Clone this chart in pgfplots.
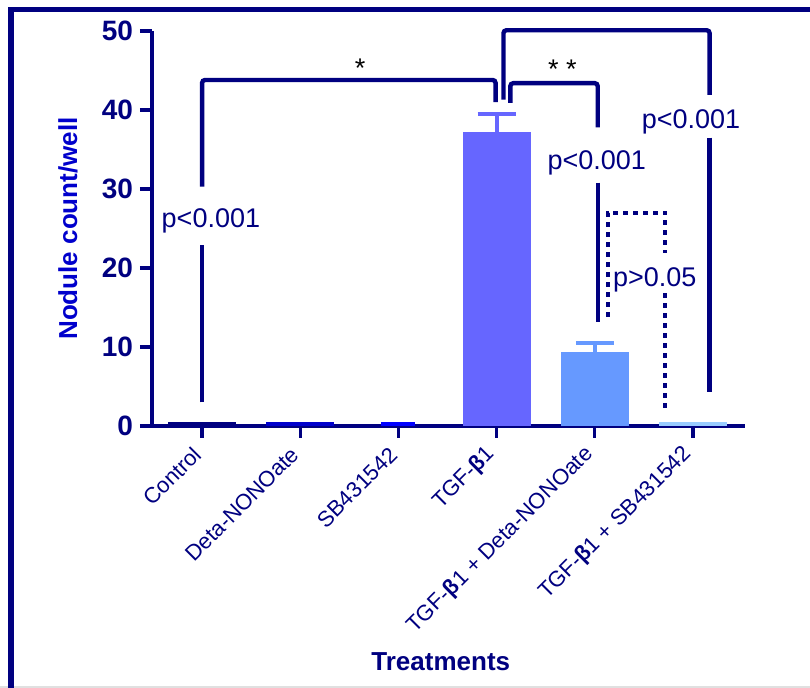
\documentclass[border=0pt]{standalone}
\usepackage{pgfplots}
\pgfplotsset{compat=1.18}
\usepackage{fontspec}
\setmainfont{Liberation Sans}
\definecolor{navy}{HTML}{000080}
\definecolor{labblue}{HTML}{0000CC}
\definecolor{bControl}{HTML}{000080}
\definecolor{bDeta}{HTML}{0000CC}
\definecolor{bSB}{HTML}{0000FF}
\definecolor{bTGF}{HTML}{6666FF}
\definecolor{bTGFD}{HTML}{6699FF}
\definecolor{bTGFS}{HTML}{99CCFF}
\newcommand{\pfont}{\fontsize{13.5}{14}\selectfont}
\begin{document}
\begin{tikzpicture}
\useasboundingbox (-76pt,-131pt) rectangle (329pt,213pt);
\fill[white] (-76pt,-131pt) rectangle (329pt,213pt);
\fill[black!12] (-76pt,-131pt) rectangle (329pt,-130pt);
\draw[navy, line width=2.8pt] (-70.5pt,-131pt) -- (-70.5pt,208.25pt) -- (329pt,208.25pt);
\begin{axis}[
  scale only axis, width=296.5pt, height=197.5pt,
  at={(0,0)}, anchor=south west,
  xmin=-0.51, xmax=5.53, ymin=0, ymax=50,
  clip=false,
  axis lines*=left,
  axis line style={navy, line width=1.7pt},
  tick style={navy, line width=1.7pt},
  major tick length=6pt, tick align=outside,
  xtick={0,1,2,3,4,5},
  xticklabels={Control, Deta-NONOate, SB431542, TGF-{\bfseries β}1, TGF-{\bfseries β}1 + Deta-NONOate, TGF-{\bfseries β}1 + SB431542},
  xticklabel style={rotate=45, anchor=east, font=\fontsize{11}{12}\selectfont, text=navy},
  xticklabel shift=4pt,
  ytick={0,10,20,30,40,50},
  yticklabel style={font=\bfseries\fontsize{14}{14}\selectfont, text=navy},
  /pgf/number format/assume math mode=true,
  xlabel={Treatments},
  xlabel style={at={(axis description cs:0.487,-0.597)}, anchor=center, font=\bfseries\fontsize{13}{14}\selectfont, text=navy},
  ylabel={Nodule count/well},
  ylabel style={at={(axis description cs:-0.1417,0.5)}, anchor=center, font=\bfseries\fontsize{13}{14}\selectfont, text=labblue},
]
\addplot[ybar, bar width=34pt, bar shift=0pt, fill=bControl, draw=none] coordinates {(0,0.5)};
\addplot[ybar, bar width=34pt, bar shift=0pt, fill=bDeta, draw=none] coordinates {(1,0.5)};
\addplot[ybar, bar width=17pt, bar shift=0pt, fill=bSB, draw=none] coordinates {(2,0.5)};
\addplot[ybar, bar width=34pt, bar shift=0pt, fill=bTGF, draw=none,
  error bars/.cd, y dir=plus, y explicit,
  error bar style={bTGF, line width=2pt},
  error mark options={rotate=90, mark size=9.5pt, line width=2.2pt, bTGF}]
  coordinates {(3,37.2) +- (0,2.3)};
\addplot[ybar, bar width=34pt, bar shift=0pt, fill=bTGFD, draw=none,
  error bars/.cd, y dir=plus, y explicit,
  error bar style={bTGFD, line width=2pt},
  error mark options={rotate=90, mark size=9.5pt, line width=2.2pt, bTGFD}]
  coordinates {(4,9.4) +- (0,1.1)};
\addplot[ybar, bar width=34pt, bar shift=0pt, fill=bTGFS, draw=none] coordinates {(5,0.5)};

% significance brackets
\draw[navy, line width=2.2pt, rounded corners=1.5pt] (axis cs:0,3.0) -- (axis cs:0,22.9);
\draw[navy, line width=2.2pt, rounded corners=1.5pt] (axis cs:0,30.3) -- (axis cs:0,43.8) -- (axis cs:2.99,43.8) -- (axis cs:2.99,41.0);
\node[anchor=base, text=navy, font=\pfont] at (axis cs:0.09,25.1) {p<0.001};
\node[anchor=base, text=black, font=\pfont] at (axis cs:1.61,44.1) {*};

\draw[navy, line width=2.2pt, rounded corners=1.5pt] (axis cs:3.14,40.9) -- (axis cs:3.14,43.4) -- (axis cs:4.03,43.4) -- (axis cs:4.03,37.8);
\draw[navy, line width=2.2pt] (axis cs:4.03,30.8) -- (axis cs:4.03,13.2);
\node[anchor=base, text=navy, font=\pfont] at (axis cs:4.02,32.5) {p<0.001};
\node[anchor=base, text=black, font=\pfont] at (axis cs:3.67,44.05) {* *};

\draw[navy, line width=2.2pt, rounded corners=1.5pt] (axis cs:3.07,41.3) -- (axis cs:3.07,50.1) -- (axis cs:5.17,50.1) -- (axis cs:5.17,41.9);
\draw[navy, line width=2.2pt] (axis cs:5.17,36.5) -- (axis cs:5.17,4.3);
\node[anchor=base, text=navy, font=\pfont] at (axis cs:4.98,37.7) {p<0.001};

\draw[navy, line width=2pt, dash pattern=on 2.5pt off 2.5pt] (axis cs:4.13,13.8) -- (axis cs:4.13,27.0) -- (axis cs:4.72,27.0) -- (axis cs:4.72,21.9);
\draw[navy, line width=2pt, dash pattern=on 2.5pt off 2.5pt] (axis cs:4.72,16.8) -- (axis cs:4.72,1.8);
\node[anchor=base, text=navy, font=\pfont] at (axis cs:4.61,17.6) {p>0.05};
\end{axis}
\end{tikzpicture}
\end{document}
